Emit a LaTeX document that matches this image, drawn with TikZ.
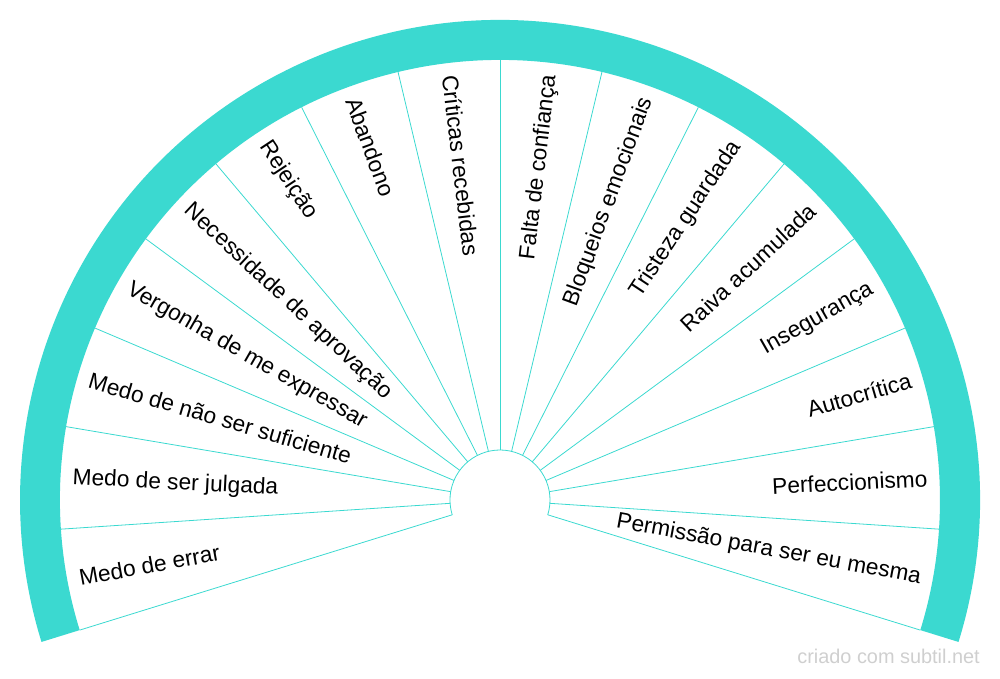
\documentclass[tikz,border=0pt]{standalone}
\usepackage{fontspec}
\setmainfont{Liberation Sans}
\definecolor{turq}{HTML}{3BD9D0}
\definecolor{wm}{HTML}{CFCFCF}
\begin{document}
\begin{tikzpicture}[x=1pt,y=1pt,
  ring/.style={fill=turq},
  spoke/.style={draw=turq,line width=0.8pt},
  lbl/.style={inner sep=0pt,font=\fontsize{22.7}{26}\selectfont,text=black}]
\useasboundingbox (-500,-178) rectangle (500,500);
\def\secw{13.4}
\def\sang{197.2}
% outer ring
\fill[ring] (-17.2:480) arc[start angle=-17.2,end angle=197.2,radius=480]
  -- (197.2:440) arc[start angle=197.2,end angle=-17.2,radius=440] -- cycle;
% inner arc
\draw[spoke] (-17.2:50) arc[start angle=-17.2,end angle=197.2,radius=50];
% spokes
\foreach \k in {0,...,16}{
  \pgfmathsetmacro{\ang}{\sang-\k*\secw}
  \coordinate (i\k) at (\ang:50);
  \coordinate (o\k) at (\ang:440);
  \draw[spoke] (i\k) -- (o\k);
}
% labels
\foreach \t [count=\i] in {Medo de errar,Medo de ser julgada,Medo de não ser suficiente,Vergonha de me expressar,Necessidade de aprovação,Rejeição,Abandono,Críticas recebidas}{
  \pgfmathsetmacro{\ang}{\sang-(\i-0.5)*\secw}
  \pgfmathsetmacro{\rot}{\ang-180}
  \node[lbl,anchor=west,rotate=\rot] (L\i) at (\ang:428) {\t};
}
\foreach \t [count=\j] in {Falta de confiança,Bloqueios emocionais,Tristeza guardada,Raiva acumulada,Insegurança,Autocrítica,Perfeccionismo,Permissão para ser eu mesma}{
  \pgfmathsetmacro{\ang}{90-(\j-0.5)*\secw}
  \node[lbl,anchor=east,rotate=\ang] (R\j) at (\ang:428) {\t};
}
\node[anchor=base east,inner sep=0pt,text=wm,font=\fontsize{19.9}{22}\selectfont] (wmark) at (480,-163) {criado com subtil.net};
\end{tikzpicture}
\end{document}
